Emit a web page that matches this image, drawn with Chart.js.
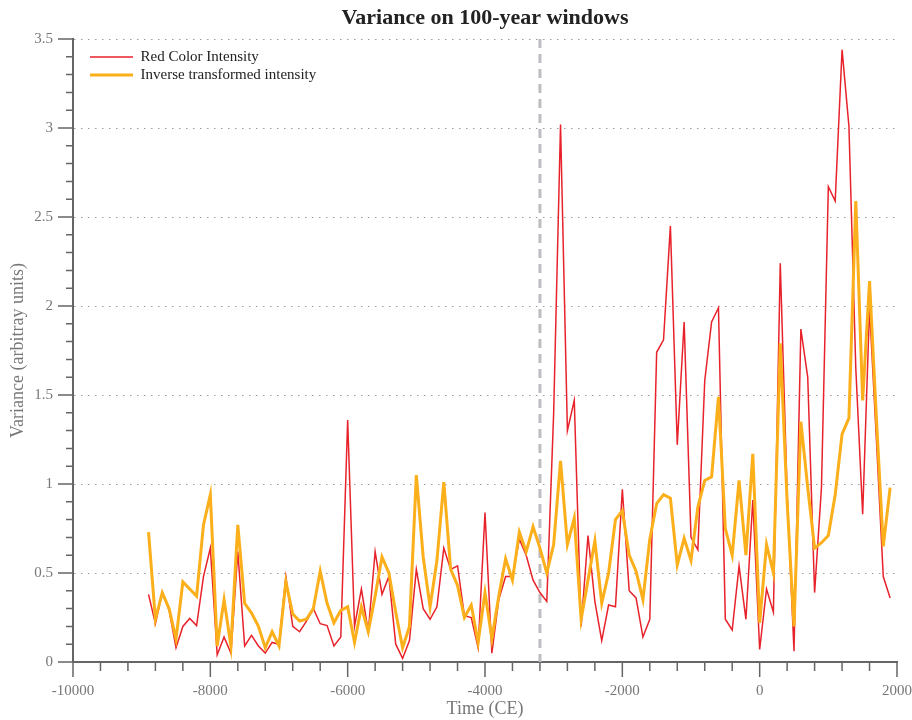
<!DOCTYPE html>
<html>
<head>
<meta charset="utf-8">
<script src="https://cdn.jsdelivr.net/npm/chart.js@4.4.1/dist/chart.umd.min.js"></script>
<style>
  body { margin: 0; background: #fff; }
</style>
</head>
<body>
<canvas id="chart" width="912" height="720"></canvas>
<script>
// centre of each 100-year window (CE)
const years = [
  -8900, -8800, -8700, -8600, -8500, -8400, -8300, -8200, -8100, -8000,
  -7900, -7800, -7700, -7600, -7500, -7400, -7300, -7200, -7100, -7000,
  -6900, -6800, -6700, -6600, -6500, -6400, -6300, -6200, -6100, -6000,
  -5900, -5800, -5700, -5600, -5500, -5400, -5300, -5200, -5100, -5000,
  -4900, -4800, -4700, -4600, -4500, -4400, -4300, -4200, -4100, -4000,
  -3900, -3800, -3700, -3600, -3500, -3400, -3300, -3200, -3100, -3000,
  -2900, -2800, -2700, -2600, -2500, -2400, -2300, -2200, -2100, -2000,
  -1900, -1800, -1700, -1600, -1500, -1400, -1300, -1200, -1100, -1000,
  -900, -800, -700, -600, -500, -400, -300, -200, -100, 0,
  100, 200, 300, 400, 500, 600, 700, 800, 900, 1000,
  1100, 1200, 1300, 1400, 1500, 1600, 1700, 1800, 1900
];

const redIntensity = [
  0.38, 0.215, 0.39, 0.29, 0.08, 0.20, 0.245, 0.205, 0.48, 0.64,
  0.04, 0.14, 0.05, 0.62, 0.09, 0.15, 0.09, 0.05, 0.11, 0.10,
  0.48, 0.20, 0.17, 0.23, 0.30, 0.215, 0.205, 0.09, 0.14, 1.36,
  0.20, 0.41, 0.17, 0.62, 0.38, 0.48, 0.10, 0.02, 0.12, 0.52,
  0.30, 0.24, 0.31, 0.64, 0.52, 0.54, 0.26, 0.25, 0.08, 0.84,
  0.05, 0.35, 0.48, 0.48, 0.69, 0.60, 0.46, 0.39, 0.34, 1.40,
  3.02, 1.30, 1.47, 0.20, 0.71, 0.34, 0.12, 0.32, 0.31, 0.97,
  0.40, 0.36, 0.14, 0.24, 1.74, 1.81, 2.45, 1.22, 1.91, 0.70,
  0.63, 1.58, 1.91, 1.99, 0.24, 0.18, 0.54, 0.24, 0.91, 0.07,
  0.41, 0.28, 2.24, 0.95, 0.06, 1.87, 1.60, 0.39, 0.98, 2.67,
  2.59, 3.44, 3.01, 1.65, 0.83, 1.99, 1.25, 0.48, 0.36
];

const inverseIntensity = [
  0.73, 0.24, 0.39, 0.30, 0.13, 0.45, 0.41, 0.37, 0.77, 0.94,
  0.09, 0.35, 0.09, 0.77, 0.33, 0.275, 0.20, 0.08, 0.17, 0.09,
  0.45, 0.27, 0.23, 0.24, 0.30, 0.51, 0.33, 0.22, 0.29, 0.31,
  0.11, 0.31, 0.17, 0.37, 0.59, 0.50, 0.28, 0.08, 0.20, 1.05,
  0.59, 0.31, 0.57, 1.01, 0.52, 0.43, 0.25, 0.32, 0.11, 0.39,
  0.13, 0.37, 0.58, 0.46, 0.73, 0.62, 0.76, 0.64, 0.50, 0.66,
  1.13, 0.66, 0.81, 0.24, 0.46, 0.68, 0.33, 0.50, 0.80, 0.85,
  0.60, 0.51, 0.35, 0.69, 0.89, 0.94, 0.92, 0.545, 0.695, 0.57,
  0.87, 1.02, 1.04, 1.49, 0.75, 0.60, 1.02, 0.60, 1.17, 0.22,
  0.66, 0.50, 1.79, 0.90, 0.20, 1.35, 0.98, 0.64, 0.67, 0.71,
  0.94, 1.28, 1.37, 2.59, 1.47, 2.14, 1.37, 0.65, 0.98
];

const xTickLabels = [-10000, -8000, -6000, -4000, -2000, 0, 2000];
const yTickLabels = [0, 0.5, 1, 1.5, 2, 2.5, 3, 3.5];
const markerYear = -3200;

const serif = "'Liberation Serif', 'DejaVu Serif', serif";
const axisGrey = "#666";
const textGrey = "#777";

// dashed marker, minor/major tick marks, legend placement
const decor = {
  id: "decor",
  afterLayout(chart) {
    const a = chart.chartArea;
    chart.legend.left = a.left + 14;
    chart.legend.top = a.top + 7.5;
  },
  beforeDatasetsDraw(chart) {
    const ctx = chart.ctx;
    const a = chart.chartArea;
    const x = chart.scales.x.getPixelForValue(markerYear);
    ctx.save();
    ctx.strokeStyle = "#bdbdc2";
    ctx.lineWidth = 3;
    ctx.setLineDash([9, 6]);
    ctx.beginPath();
    ctx.moveTo(x, a.top);
    ctx.lineTo(x, a.bottom);
    ctx.stroke();
    ctx.restore();
  },
  afterDraw(chart) {
    const ctx = chart.ctx;
    const a = chart.chartArea;
    const xs = chart.scales.x;
    const ys = chart.scales.y;
    ctx.save();
    ctx.strokeStyle = axisGrey;
    ctx.lineWidth = 1.5;
    ctx.beginPath();
    for (let v = xs.min; v <= xs.max; v += 400) {
      const px = xs.getPixelForValue(v);
      const len = v % 2000 === 0 ? 15 : 9;
      ctx.moveTo(px, a.bottom);
      ctx.lineTo(px, a.bottom + len);
    }
    for (let i = 0; i <= 35; i++) {
      const py = ys.getPixelForValue(i / 10);
      const len = i % 5 === 0 ? 15 : 7;
      ctx.moveTo(a.left, py);
      ctx.lineTo(a.left - len, py);
    }
    ctx.stroke();
    ctx.restore();
  }
};

new Chart(document.getElementById("chart"), {
  type: "line",
  data: {
    datasets: [
      {
        label: "Red Color Intensity",
        data: years.map((yr, i) => ({ x: yr, y: redIntensity[i] })),
        borderColor: "#E8222B",
        borderWidth: 1.5,
        pointRadius: 0,
        tension: 0,
        order: 1
      },
      {
        label: "Inverse transformed intensity",
        data: years.map((yr, i) => ({ x: yr, y: inverseIntensity[i] })),
        borderColor: "#FBAF1B",
        borderWidth: 3,
        pointRadius: 0,
        tension: 0,
        order: 0
      }
    ]
  },
  options: {
    responsive: false,
    animation: false,
    layout: { padding: { left: 0, right: 15, top: 0, bottom: 0 } },
    plugins: {
      title: {
        display: true,
        text: "Variance on 100-year windows",
        color: "#222",
        font: { family: serif, size: 22, weight: "bold" },
        padding: { top: 5, bottom: 7.6 },
        fullSize: false
      },
      legend: {
        position: "chartArea",
        align: "start",
        labels: {
          usePointStyle: true,
          pointStyle: "line",
          pointStyleWidth: 43,
          padding: 3,
          color: "#222",
          font: { family: serif, size: 15 },
          sort: (a, b) => a.datasetIndex - b.datasetIndex
        }
      },
      tooltip: { enabled: false }
    },
    scales: {
      x: {
        type: "linear",
        min: -10000,
        max: 2000,
        afterBuildTicks: (scale) => { scale.ticks = xTickLabels.map((v) => ({ value: v })); },
        afterFit: (scale) => { scale.height = 58; scale.paddingRight = 0; },
        grid: { display: false, drawTicks: false },
        border: { display: true, color: axisGrey, width: 2 },
        ticks: {
          padding: 20,
          color: textGrey,
          font: { family: serif, size: 15 },
          maxRotation: 0,
          autoSkip: false,
          callback: (v) => String(v)
        },
        title: {
          display: true,
          text: "Time (CE)",
          color: textGrey,
          font: { family: serif, size: 18 },
          padding: { top: 0, bottom: 0 }
        }
      },
      y: {
        min: 0,
        max: 3.5,
        afterBuildTicks: (scale) => { scale.ticks = yTickLabels.map((v) => ({ value: v })); },
        afterFit: (scale) => { scale.width = 73; },
        grid: {
          drawTicks: false,
          lineWidth: 1,
          color: (c) => (c.tick && c.tick.value === 0 ? "rgba(0,0,0,0)" : "#9a9a9a")
        },
        border: { display: true, color: axisGrey, width: 2, dash: [1.5, 5.5] },
        ticks: {
          padding: 20,
          color: textGrey,
          font: { family: serif, size: 15 },
          callback: (v) => String(v)
        },
        title: {
          display: true,
          text: "Variance (arbitray units)",
          color: textGrey,
          font: { family: serif, size: 18 },
          padding: { top: 7, bottom: 0 }
        }
      }
    }
  },
  plugins: [decor]
});
</script>
</body>
</html>
